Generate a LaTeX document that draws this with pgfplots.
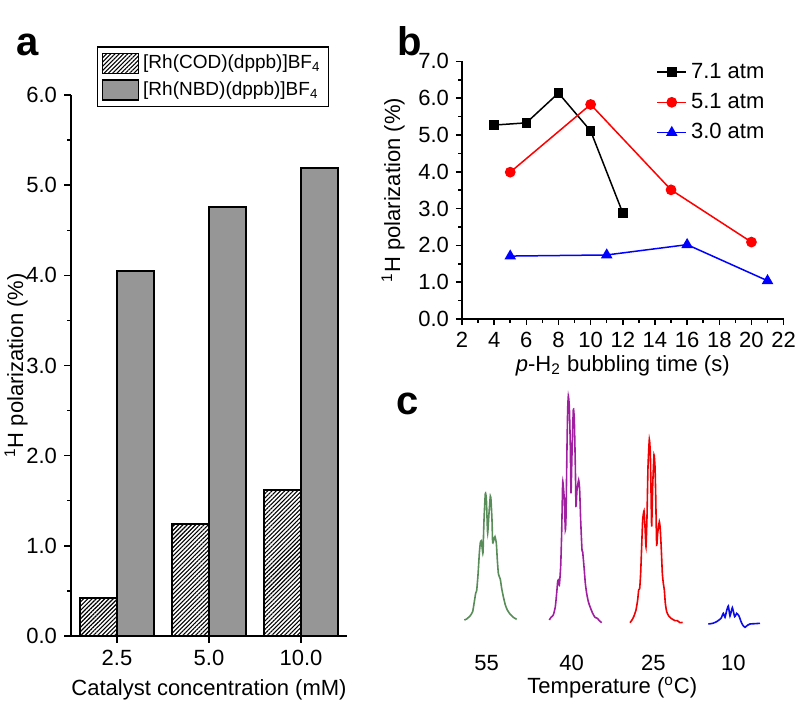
\documentclass[border=0pt]{standalone}
\usepackage{fontspec}
\setmainfont{Liberation Sans}
\usepackage{pgfplots}
\pgfplotsset{compat=1.18}
\usetikzlibrary{patterns.meta}
\definecolor{nbdgray}{RGB}{150,150,150}
\definecolor{spgreen}{RGB}{88,140,88}
\definecolor{sppurple}{RGB}{160,30,160}
\definecolor{spred}{RGB}{240,0,0}
\definecolor{spblue}{RGB}{10,10,235}
\pgfplotsset{
  myaxis/.style={
    scale only axis,
    axis lines=left,
    axis line style={-, line width=0.75pt, black},
    tick align=outside,
    tick style={line width=0.75pt, black},
    /pgf/number format/assume math mode=true,
    tick label style={font=\fontsize{11}{13}\selectfont},
    label style={font=\fontsize{11}{13}\selectfont},
  }
}
\begin{document}
\begin{tikzpicture}
\path[use as bounding box] (0,0) rectangle (400pt,356pt);

% ---------- panel a ----------
\begin{axis}[myaxis,
  at={(35.5pt,38pt)}, anchor=south west,
  width=138pt, height=270.5pt,
  xmin=-0.5, xmax=2.5, ymin=0, ymax=6,
  xtick={0,1,2}, xticklabels={2.5,5.0,10.0},
  ytick={0,1,2,3,4,5,6}, minor y tick num=1,
  major tick length=3.5pt, minor tick length=1.8pt,
  yticklabel style={/pgf/number format/.cd, fixed, fixed zerofill, precision=1},
  xlabel={Catalyst concentration (mM)},
  ylabel={\textsuperscript{1}H polarization (\%)},
  ylabel shift=-7.5pt,
  ybar, bar width=0.4,
  legend style={at={(0.094,1.09)}, anchor=north west, draw=black, line width=0.75pt,
    font=\fontsize{9.5}{11}\selectfont, row sep=1pt, inner sep=2pt},
  legend cell align=left,
  legend image code/.code={\draw[#1] (0pt,-5pt) rectangle (18pt,5pt);},
]
\addplot[bar shift=-0.2, draw=black, line width=0.75pt,
  pattern={Lines[angle=45,distance=1.5pt,line width=0.55pt]}]
  coordinates {(0,0.42) (1,1.24) (2,1.62)};
\addlegendentry{[Rh(COD)(dppb)]BF\textsubscript{4}}
\addplot[bar shift=0.2, draw=black, line width=0.75pt, fill=nbdgray]
  coordinates {(0,4.05) (1,4.76) (2,5.19)};
\addlegendentry{[Rh(NBD)(dppb)]BF\textsubscript{4}}
\end{axis}

% ---------- panel b ----------
\begin{axis}[myaxis,
  at={(231pt,196.5pt)}, anchor=south west,
  width=160.8pt, height=128.8pt,
  xmin=2, xmax=22, ymin=0, ymax=7,
  xtick={2,4,...,22}, minor x tick num=1,
  ytick={0,1,2,3,4,5,6,7}, minor y tick num=1,
  major tick length=3pt, minor tick length=1.8pt,
  yticklabel style={/pgf/number format/.cd, fixed, fixed zerofill, precision=1},
  xlabel={\textit{p}-H\textsubscript{2} bubbling time (s)},
  ylabel={\textsuperscript{1}H polarization (\%)},
  xlabel shift=-3pt,
  legend style={at={(0.585,1.026)}, anchor=north west, draw=none, fill=none,
    font=\fontsize{11}{13}\selectfont, row sep=2pt},
  legend cell align=left,
  legend image code/.code={\draw[mark repeat=2, mark phase=2, #1] plot coordinates {(0pt,0pt) (7.25pt,0pt) (14.5pt,0pt)};},
]
\addplot[black, line width=0.75pt, mark=square*, mark size=2pt, mark options={solid}]
  coordinates {(4,5.27) (6,5.33) (8,6.14) (10,5.11) (12,2.88)};
\addlegendentry{7.1 atm}
\addplot[red, line width=0.75pt, mark=*, mark size=2.3pt]
  coordinates {(5,3.99) (10,5.83) (15,3.51) (20,2.09)};
\addlegendentry{5.1 atm}
\addplot[blue, line width=0.75pt, mark=triangle*, mark size=2.6pt]
  coordinates {(5,1.71) (11,1.74) (16,2.02) (21,1.04)};
\addlegendentry{3.0 atm}
\end{axis}

% ---------- panel c ----------
\begin{axis}[
  at={(210pt,1pt)}, anchor=south west, scale only axis,
  width=180pt, height=165pt,
  xmin=0, xmax=1080, ymin=-250, ymax=740,
  hide axis, clip=false,
]
\addplot[spgreen, line width=0.8pt, smooth, tension=0.3] coordinates {
(133,20) (140,23) (150,32) (158,45) (163,75) (167,100) (170,108) (174,155) (178,220)
(181,252) (184,258) (187,232) (189,222) (192,320) (196,400) (199,385) (201,330) (203,280)
(207,340) (211,392) (213,380) (216,320) (218,252) (222,262) (225,270) (229,250) (232,200)
(235,160) (238,150) (241,142) (245,115) (250,90) (256,65) (262,50) (270,38) (280,28) (290,22)};
\addplot[sppurple, line width=0.8pt, smooth, tension=0.3] coordinates {
(388,20) (393,28) (400,35) (406,60) (410,100) (413,135) (415,140) (418,125) (422,180)
(425,280) (428,432) (430,420) (433,380) (436,290) (438,330) (441,540) (443,650) (445,692)
(448,660) (451,540) (453,400) (456,520) (460,652) (463,620) (466,480) (468,362) (471,410)
(476,440) (479,410) (482,320) (486,230) (488,225) (492,180) (496,130) (500,100) (505,75)
(510,60) (518,40) (525,28) (532,25) (538,18) (545,12)};
\addplot[spred, line width=0.8pt, smooth, tension=0.3] coordinates {
(630,12) (636,20) (642,32) (648,50) (653,80) (656,110) (659,114) (662,160) (665,240)
(668,320) (672,347) (675,300) (678,240) (681,330) (684,480) (688,562) (691,520) (693,410)
(695,300) (698,420) (702,515) (705,480) (707,400) (710,245) (713,280) (718,315) (721,290)
(724,230) (727,160) (730,130) (733,110) (736,70) (740,45) (746,32) (752,26) (758,22)
(765,18) (772,18) (780,12) (788,13)};
\addplot[spblue, line width=0.8pt, smooth, tension=0.3] coordinates {
(865,8) (878,10) (890,15) (903,25) (910,40) (915,28) (920,48) (925,62) (930,32)
(937,57) (944,30) (950,40) (957,32) (962,18) (968,5) (975,-2) (982,4) (990,8) (1005,9) (1020,10)};
\node[font=\fontsize{11}{13}\selectfont] at (axis cs:200,-109) {55};
\node[font=\fontsize{11}{13}\selectfont] at (axis cs:455,-109) {40};
\node[font=\fontsize{11}{13}\selectfont] at (axis cs:700,-109) {25};
\node[font=\fontsize{11}{13}\selectfont] at (axis cs:940,-109) {10};
\node[font=\fontsize{11}{13}\selectfont] at (axis cs:577,-184) {Temperature (\textsuperscript{o}C)};
\end{axis}

% panel letters
\node[anchor=base, font=\fontsize{20}{24}\selectfont\bfseries] at (14pt,328pt) {a};
\node[anchor=base, font=\fontsize{20}{24}\selectfont\bfseries] at (205pt,328pt) {b};
\node[anchor=base, font=\fontsize{20}{24}\selectfont\bfseries] at (204pt,148.5pt) {c};
\end{tikzpicture}
\end{document}
